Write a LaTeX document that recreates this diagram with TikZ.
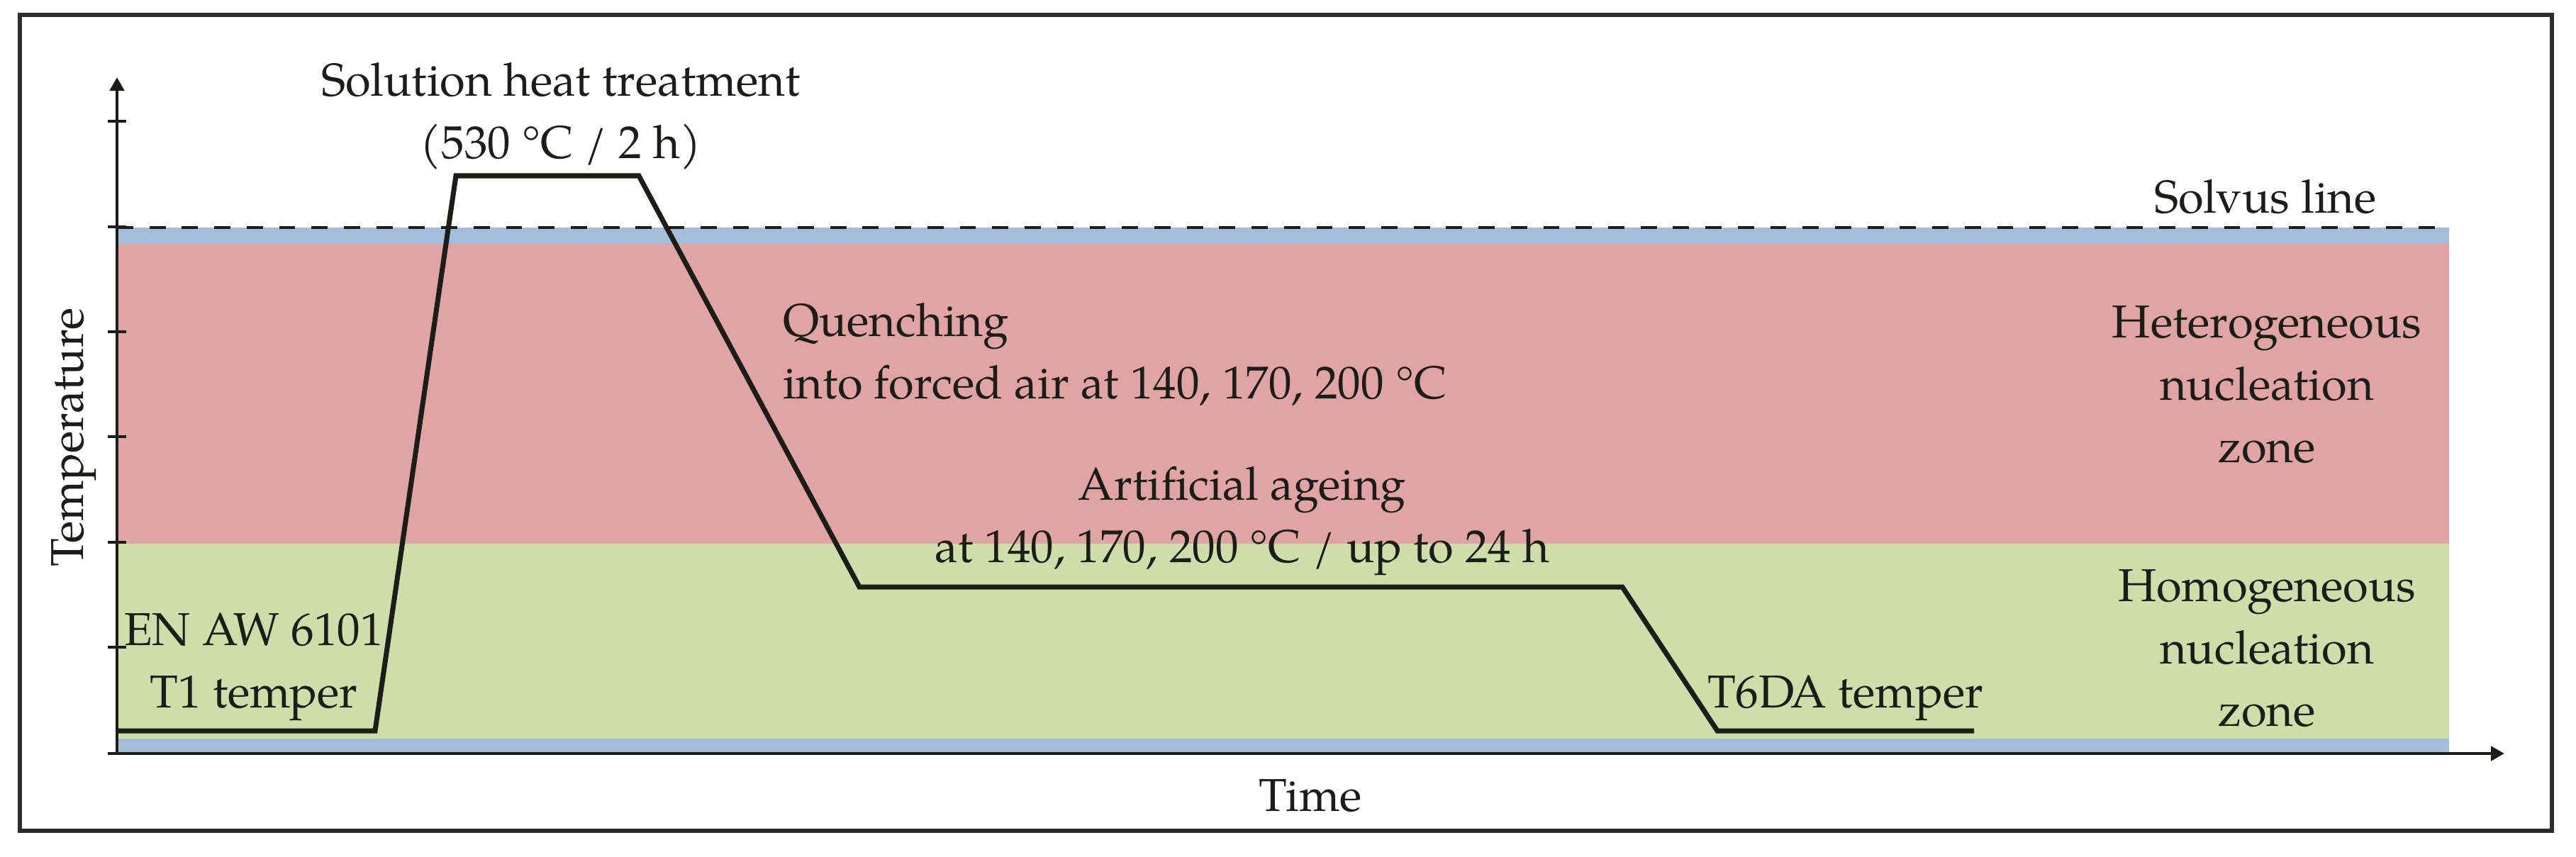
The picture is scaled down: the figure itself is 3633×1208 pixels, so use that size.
\documentclass[tikz,border=0pt]{standalone}
\usepackage{fontspec}
\setmainfont{texgyrepagella-regular.otf}
\usetikzlibrary{arrows.meta}
\definecolor{bandblue}{RGB}{164,189,219}
\definecolor{bandred}{RGB}{224,164,165}
\definecolor{bandgreen}{RGB}{207,221,171}
\definecolor{framegray}{RGB}{45,45,45}
\definecolor{inkc}{RGB}{28,28,24}
\begin{document}
\begin{tikzpicture}[x=0.01cm,y=-0.01cm,
  lbl/.style={font=\fontsize{18.5}{25}\selectfont, inner sep=0pt, outer sep=0pt, text=inkc},
  axisline/.style={line width=1.4pt, draw=inkc, -{Triangle[length=5.4pt,width=5.7pt]}},
  tickline/.style={line width=1.3pt, draw=inkc},
  curveline/.style={line width=2pt, draw=inkc, line join=miter},
  solvusline/.style={line width=1.2pt, draw=inkc, dash pattern=on 6.5pt off 6.5pt}]
\useasboundingbox (0,0) rectangle (3633,1208);
% frame
\draw[line width=1.5pt, draw=framegray] (28,21) rectangle (3599,1172);
% bands
\fill[bandblue] (165,321) rectangle (3454,344);
\fill[bandred] (165,344) rectangle (3454,767);
\fill[bandgreen] (165,767) rectangle (3454,1042);
\fill[bandblue] (165,1042) rectangle (3454,1063);
% solvus line
\coordinate (sl0) at (165,321);
\coordinate (sl1) at (3454,321);
\draw[solvusline] (sl0) -- (sl1);
% axes
\coordinate (origin) at (165,1063);
\coordinate (ytop) at (165,109);
\coordinate (xend) at (3532,1063);
\draw[axisline] (origin) -- (ytop);
\draw[axisline] (origin) -- (xend);
% ticks
\foreach \ty in {171,320,468,616,765,913,1063}{
  \draw[tickline] (152,\ty) -- (178,\ty);
}
% temperature profile
\coordinate (p0) at (165,1031);
\coordinate (p1) at (529,1031);
\coordinate (p2) at (643,248);
\coordinate (p3) at (901,248);
\coordinate (p4) at (1212,828);
\coordinate (p5) at (2288,828);
\coordinate (p6) at (2422,1031);
\coordinate (p7) at (2784,1031);
\draw[curveline] (p0) -- (p1) -- (p2) -- (p3) -- (p4) -- (p5) -- (p6) -- (p7);
% labels (anchor=base refers to the baseline of the last line)
\node[lbl, align=center, anchor=base] (sht) at (791,223) {Solution heat treatment\\(530 °C / 2 h)};
\node[lbl, align=left, anchor=base west] (quench) at (1104,562) {Quenching\\into forced air at 140, 170, 200 °C};
\node[lbl, align=center, anchor=base] (age) at (1752,793) {Artificial ageing\\at 140, 170, 200 °C / up to 24 h};
\node[lbl, align=center, anchor=base] (t1) at (358,998) {EN AW 6101\\T1 temper};
\node[lbl, anchor=base west] (t6) at (2408,998) {T6DA temper};
\node[lbl, anchor=base] (solvus) at (3195,300) {Solvus line};
\node[lbl, align=center, anchor=base] (het) at (3197,652) {Heterogeneous\\nucleation\\zone};
\node[lbl, align=center, anchor=base] (hom) at (3197,1024) {Homogeneous\\nucleation\\zone};
\node[lbl, anchor=base] (time) at (1848,1144) {Time};
\node[lbl, rotate=90, anchor=base] (temp) at (117,617) {Temperature};
\end{tikzpicture}
\end{document}
